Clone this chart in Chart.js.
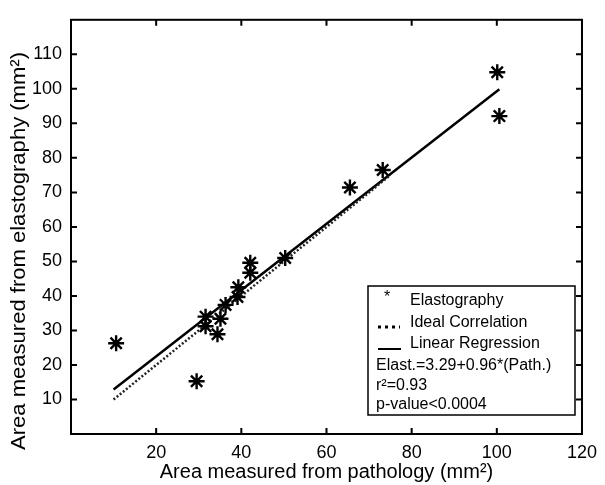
<!DOCTYPE html>
<html>
<head>
<meta charset="utf-8">
<script src="https://cdn.jsdelivr.net/npm/chart.js@4.4.0/dist/chart.umd.min.js"></script>
<style>
  html, body { margin: 0; padding: 0; background: #fff; }
</style>
</head>
<body>
<canvas id="chart" width="605" height="485"></canvas>
<script>
// values
const pathology    = [10.6, 29.5, 31.6, 31.6, 34.4, 35.1, 36.3, 39.1, 39.3, 42.1, 42.1, 50.3, 65.5, 73.2, 100.1, 100.6];
const elastography = [26.3, 15.3, 31.2, 34.0, 28.9, 33.4, 37.4, 39.7, 42.5, 46.7, 49.6, 51.0, 71.4, 76.5, 104.8, 92.1];
const idealX = [10, 75];
const idealY = [10, 75];
const regX = [10, 100.6];
const regY = [12.9, 99.9];
const xTicks = [20, 40, 60, 80, 100, 120];
const yTicks = [10, 20, 30, 40, 50, 60, 70, 80, 90, 100, 110];
const legendLabels = ['Elastography', 'Ideal Correlation', 'Linear Regression'];
const legendNotes = ['Elast.=3.29+0.96*(Path.)', 'r\u00b2=0.93', 'p-value<0.0004'];
const yTitle = 'Area measured from elastography (mm\u00b2)';
const xTitle = 'Area measured from pathology (mm\u00b2)';

const FONT = '"Liberation Sans", Arial, sans-serif';

function pts(xs, ys) { return xs.map((x, i) => ({x: x, y: ys[i]})); }

// box, inward tick marks, y title and the text legend
const framePlugin = {
  id: 'frame',
  afterDraw(chart) {
    const ctx = chart.ctx;
    const a = chart.chartArea;
    const xs = chart.scales.x, ys = chart.scales.y;
    ctx.save();
    ctx.strokeStyle = '#000';
    ctx.lineWidth = 2;
    ctx.strokeRect(a.left, a.top, a.right - a.left, a.bottom - a.top);
    const tl = 6;
    ctx.beginPath();
    xTicks.forEach(v => {
      const px = xs.getPixelForValue(v);
      ctx.moveTo(px, a.bottom); ctx.lineTo(px, a.bottom - tl);
      ctx.moveTo(px, a.top); ctx.lineTo(px, a.top + tl);
    });
    yTicks.forEach(v => {
      const py = ys.getPixelForValue(v);
      ctx.moveTo(a.left, py); ctx.lineTo(a.left + tl, py);
      ctx.moveTo(a.right, py); ctx.lineTo(a.right - tl, py);
    });
    ctx.stroke();

    // y axis title (the scan is a bit taller than wide, so stretch it)
    ctx.save();
    ctx.font = '20px ' + FONT;
    ctx.fillStyle = '#000';
    ctx.textAlign = 'center';
    ctx.textBaseline = 'middle';
    ctx.translate(19, 251);
    ctx.rotate(-Math.PI / 2);
    const w = ctx.measureText(yTitle).width;
    ctx.scale(398 / w, 1);
    ctx.fillText(yTitle, 0, 0);
    ctx.restore();

    // legend box
    const bx = 368, by = 286, bw = 207, bh = 129;
    ctx.fillStyle = '#fff';
    ctx.fillRect(bx, by, bw, bh);
    ctx.lineWidth = 1.5;
    ctx.strokeRect(bx, by, bw, bh);
    ctx.fillStyle = '#000';
    ctx.font = '16px ' + FONT;
    ctx.textBaseline = 'middle';
    ctx.textAlign = 'left';
    const rows = [301, 323, 344];
    ctx.fillText('*', 384, rows[0] - 3);
    // dotted sample
    ctx.lineWidth = 3;
    ctx.setLineDash([3, 4]);
    ctx.beginPath(); ctx.moveTo(378, rows[1] + 4); ctx.lineTo(400, rows[1] + 4); ctx.stroke();
    ctx.setLineDash([]);
    ctx.lineWidth = 2;
    ctx.beginPath(); ctx.moveTo(378, rows[2] + 5); ctx.lineTo(401, rows[2] + 5); ctx.stroke();
    legendLabels.forEach((t, i) => ctx.fillText(t, 410, rows[i]));
    const noteRows = [366, 386, 405];
    legendNotes.forEach((t, i) => ctx.fillText(t, 376, noteRows[i]));
    ctx.restore();
  }
};

new Chart(document.getElementById('chart'), {
  type: 'scatter',
  data: {
    datasets: [
      {
        label: legendLabels[0],
        data: pts(pathology, elastography),
        pointStyle: 'star',
        pointRadius: 8,
        pointBorderWidth: 2.4,
        borderColor: '#000',
        backgroundColor: '#000',
        showLine: false
      },
      {
        label: legendLabels[1],
        data: pts(idealX, idealY),
        showLine: true,
        pointRadius: 0,
        borderColor: '#222',
        borderWidth: 2.5,
        borderDash: [2, 2]
      },
      {
        label: legendLabels[2],
        data: pts(regX, regY),
        showLine: true,
        pointRadius: 0,
        borderColor: '#000',
        borderWidth: 2.5
      }
    ]
  },
  options: {
    responsive: false,
    animation: false,
    layout: { padding: { top: 12, right: 22, left: 0, bottom: 0 } },
    plugins: { legend: { display: false }, tooltip: { enabled: false } },
    scales: {
      x: {
        type: 'linear', min: 0, max: 120,
        afterBuildTicks: s => { s.ticks = xTicks.map(v => ({value: v})); },
        afterFit: s => { s.height = 51; },
        grid: { display: false, drawTicks: false },
        border: { display: false },
        ticks: { color: '#000', padding: 8, font: { family: FONT, size: 18 }, maxRotation: 0 },
        title: { display: true, text: xTitle, color: '#000',
                 font: { family: FONT, size: 20 }, padding: { top: 0, bottom: 1 } }
      },
      y: {
        type: 'linear', min: 0, max: 120,
        afterBuildTicks: s => { s.ticks = yTicks.map(v => ({value: v})); },
        afterFit: s => { s.width = 71; },
        grid: { display: false, drawTicks: false },
        border: { display: false },
        ticks: { color: '#000', padding: 9, font: { family: FONT, size: 18 } },
        title: { display: false }
      }
    }
  },
  plugins: [framePlugin]
});
</script>
</body>
</html>
